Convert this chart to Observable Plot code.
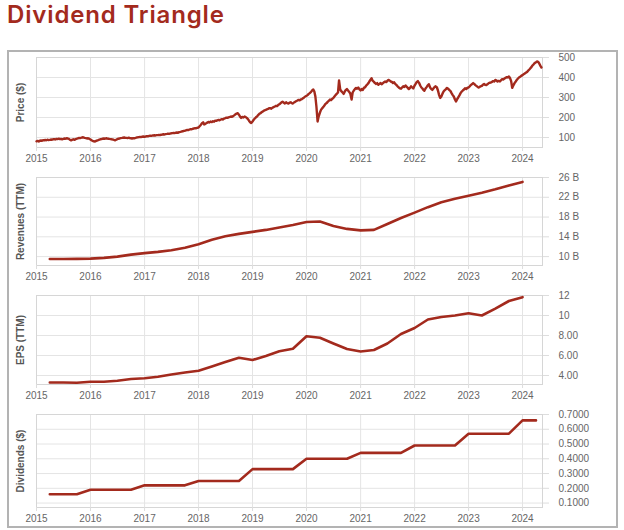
<!DOCTYPE html>
<html>
<head>
<meta charset="utf-8">
<script src="https://cdn.jsdelivr.net/npm/d3@7"></script>
<script src="https://cdn.jsdelivr.net/npm/@observablehq/plot@0.6"></script>
<style>
  html, body { margin: 0; padding: 0; background: #fff; }
  #page { position: relative; width: 624px; height: 530px; overflow: hidden; }
  #title { position: absolute; left: 7px; top: 0px; font: 600 24px "Inter", sans-serif; line-height: normal; letter-spacing: 0.85px; color: #a32a1d; white-space: nowrap; }
  #box { position: absolute; left: 7px; top: 50px; width: 607px; height: 474px; border: 2px solid #b3b3b3; }
  .panel { position: absolute; left: 0; }
</style>
</head>
<body>
<div id="page">
  <div id="title">Dividend Triangle</div>
  <div id="box"></div>
</div>
<script>
// ---- data ----
const yearLabels = ["2015","2016","2017","2018","2019","2020","2021","2022","2023","2024"];
const xDomainDates = ["2015-01-01", "2024-05-15"];

// Price, four readings per month (1st, 8th, 16th, 23rd)
const price2015 = [81, 83, 80, 84, 85, 84, 87, 86, 88, 86, 89, 87, 88, 90, 89, 91, 92, 90, 93, 92, 94, 92, 93, 91,
  93, 95, 94, 96, 95, 93, 88, 86, 89, 91, 88, 92, 94, 96, 98, 97, 99, 101, 100, 98, 97, 95, 96, 94];
const price2016 = [90, 86, 83, 81, 80, 83, 85, 87, 89, 91, 92, 94, 95, 94, 96, 95, 94, 93, 92, 91, 90, 88, 86, 89,
  92, 94, 95, 97, 98, 99, 100, 99, 98, 97, 99, 97, 96, 95, 97, 96, 98, 100, 101, 102, 103, 102, 104, 105];
const price2017 = [104, 105, 107, 106, 108, 109, 108, 110, 110, 111, 110, 112, 112, 113, 112, 114, 115, 116, 115, 117, 118, 119, 118, 120,
  121, 122, 123, 122, 124, 125, 124, 127, 128, 130, 131, 133, 134, 136, 138, 137, 140, 142, 141, 144, 145, 147, 146, 149];
const price2018 = [150, 156, 163, 170, 176, 165, 168, 172, 174, 178, 175, 180, 177, 181, 179, 184, 183, 186, 188, 186, 190, 192, 190, 195,
  197, 199, 198, 201, 203, 205, 204, 207, 212, 216, 220, 222, 214, 205, 198, 203, 200, 205, 202, 198, 192, 184, 176, 172];
const price2019 = [180, 188, 195, 200, 206, 212, 218, 221, 225, 229, 232, 236, 238, 241, 243, 246, 247, 244, 249, 252, 255, 258, 257, 262,
  266, 270, 276, 279, 274, 270, 276, 272, 270, 274, 276, 272, 270, 275, 278, 282, 285, 288, 286, 290, 292, 296, 300, 305];
const price2020 = [308, 312, 318, 322, 328, 335, 340, 330, 305, 255, 180, 205, 225, 238, 246, 252, 260, 268, 272, 278, 284, 290, 287, 294,
  298, 305, 312, 318, 325, 385, 340, 332, 325, 318, 330, 338, 342, 335, 328, 320, 290, 325, 335, 342, 348, 344, 350, 342];
const price2021 = [335, 342, 338, 348, 352, 360, 366, 372, 380, 388, 396, 384, 378, 372, 368, 372, 364, 368, 372, 366, 372, 376, 380, 377,
  383, 388, 385, 380, 378, 372, 376, 368, 362, 356, 350, 346, 344, 350, 356, 352, 360, 354, 348, 342, 348, 356, 350, 345];
const price2022 = [360, 368, 378, 382, 372, 360, 350, 345, 338, 334, 345, 352, 362, 366, 350, 343, 338, 345, 352, 356, 350, 335, 312, 298,
  305, 318, 330, 336, 342, 348, 344, 338, 332, 322, 312, 305, 290, 280, 292, 300, 312, 322, 330, 335, 340, 346, 342, 348];
const price2023 = [350, 355, 362, 366, 372, 368, 362, 358, 355, 350, 352, 356, 358, 364, 368, 363, 362, 366, 371, 374, 375, 378, 382, 380,
  388, 385, 380, 383, 380, 386, 392, 390, 395, 398, 402, 400, 405, 398, 382, 348, 362, 372, 380, 388, 395, 400, 404, 408];
const price2024 = [412, 416, 420, 424, 428, 434, 440, 446, 452, 460, 466, 472, 476, 480, 478, 470, 458, 450];
const priceYears = [2015, 2016, 2017, 2018, 2019, 2020, 2021, 2022, 2023, 2024];
const priceDays = [1, 8, 16, 23];
const priceRows = [price2015, price2016, price2017, price2018, price2019, price2020, price2021, price2022, price2023, price2024];
const priceTicks = [100, 200, 300, 400, 500];

// Revenues TTM (billions), quarterly
const quarterDates = ["2015-04-01","2015-07-01","2015-10-01",
  "2016-01-01","2016-04-01","2016-07-01","2016-10-01",
  "2017-01-01","2017-04-01","2017-07-01","2017-10-01",
  "2018-01-01","2018-04-01","2018-07-01","2018-10-01",
  "2019-01-01","2019-04-01","2019-07-01","2019-10-01",
  "2020-01-01","2020-04-01","2020-07-01","2020-10-01",
  "2021-01-01","2021-04-01","2021-07-01","2021-10-01",
  "2022-01-01","2022-04-01","2022-07-01","2022-10-01",
  "2023-01-01","2023-04-01","2023-07-01","2023-10-01",
  "2024-01-01"];
const revenues = [9.5, 9.5, 9.55, 9.6, 9.75, 10.0, 10.4, 10.7, 10.95, 11.3, 11.8, 12.5, 13.4, 14.1, 14.6, 15.0, 15.4, 15.9, 16.4, 17.0, 17.1, 16.2, 15.6, 15.3, 15.4, 16.6, 17.8, 18.9, 20.0, 21.0, 21.7, 22.3, 22.9, 23.6, 24.4, 25.1];
const revTicks = [10, 14, 18, 22, 26];

// EPS TTM, quarterly
const eps = [3.3, 3.3, 3.28, 3.38, 3.38, 3.48, 3.65, 3.72, 3.88, 4.1, 4.3, 4.48, 4.9, 5.35, 5.78, 5.55, 5.95, 6.42, 6.67, 7.93, 7.77, 7.2, 6.65, 6.4, 6.55, 7.2, 8.15, 8.75, 9.6, 9.85, 10.0, 10.22, 10.0, 10.68, 11.45, 11.83];
const epsTicks = [4, 6, 8, 10, 12];
const epsTickLabels = ["4.00", "6.00", "8.00", "10", "12"];

// Dividends, quarterly
const divDates = quarterDates.concat(["2024-04-01"]);
const dividends = [0.16, 0.16, 0.16,
  0.19, 0.19, 0.19, 0.19,
  0.22, 0.22, 0.22, 0.22,
  0.25, 0.25, 0.25, 0.25,
  0.33, 0.33, 0.33, 0.33,
  0.40, 0.40, 0.40, 0.40,
  0.44, 0.44, 0.44, 0.44,
  0.49, 0.49, 0.49, 0.49,
  0.57, 0.57, 0.57, 0.57,
  0.66, 0.66];
const divTicks = [0.1, 0.2, 0.3, 0.4, 0.5, 0.6, 0.7];

// ---- build tables ----
const priceData = [];
priceRows.forEach((row, k) => {
  row.forEach((v, i) => {
    priceData.push({date: new Date(Date.UTC(priceYears[k], Math.floor(i / 4), priceDays[i % 4])), value: v});
  });
});
const revData = quarterDates.map((d, i) => ({date: new Date(d), value: revenues[i]}));
const epsData = quarterDates.map((d, i) => ({date: new Date(d), value: eps[i]}));
const divData = divDates.map((d, i) => ({date: new Date(d), value: dividends[i]}));

const yearDates = yearLabels.map(y => new Date(Date.UTC(+y, 0, 1)));
const xDomain = xDomainDates.map(d => new Date(d));
const lineColor = "#a32a1d";

function panel({top, height, mt, mb, data, yDomain, yTicks, yFmt, label, sw}) {
  const svg = Plot.plot({
    width: 624, height,
    marginTop: mt, marginBottom: mb, marginLeft: 36, marginRight: 82,
    style: {background: "transparent", fontFamily: "'Liberation Sans', Arial, sans-serif", fontSize: "10px", overflow: "visible"},
    x: {type: "utc", domain: xDomain},
    y: {domain: yDomain},
    marks: [
      Plot.gridX(yearDates, {stroke: "#e4e4e4", strokeOpacity: 1}),
      Plot.gridY(yTicks, {stroke: "#e4e4e4", strokeOpacity: 1}),
      Plot.frame({stroke: "#d6d6d6"}),
      Plot.line(data, {x: "date", y: "value", stroke: lineColor, strokeWidth: sw, strokeLinejoin: "round"}),
      Plot.axisX(yearDates, {tickFormat: d => yearLabels[yearDates.findIndex(t => +t === +d)], tickSize: 4, tickPadding: 3, stroke: "#dddddd", fill: "#666", label: null}),
      Plot.axisY(yTicks, {anchor: "right", tickFormat: yFmt, tickSize: 6, tickPadding: 10, stroke: "#dddddd", fill: "#666", textAnchor: "start", label: null}),
      Plot.text([label], {frameAnchor: "left", textAnchor: "middle", rotate: -90, dx: -16, fill: "#555", fontWeight: "bold", fontSize: 10})
    ]
  });
  svg.classList.add("panel");
  svg.style.top = top + "px";
  document.getElementById("page").appendChild(svg);
}

panel({top: 50, height: 120, mt: 7, mb: 23, data: priceData, yDomain: [50, 500], yTicks: priceTicks, yFmt: d => String(d), label: "Price ($)", sw: 2.4});
panel({top: 170, height: 120, mt: 7, mb: 25, data: revData, yDomain: [8.2, 26], yTicks: revTicks, yFmt: d => d + " B", label: "Revenues (TTM)", sw: 2.6});
panel({top: 290, height: 115, mt: 5, mb: 21, data: epsData, yDomain: [3.1, 12], yTicks: epsTicks, yFmt: d => epsTickLabels[epsTicks.indexOf(d)], label: "EPS (TTM)", sw: 2.6});
panel({top: 405, height: 123, mt: 9, mb: 21, data: divData, yDomain: [0.07, 0.7], yTicks: divTicks, yFmt: d => d.toFixed(4), label: "Dividends ($)", sw: 2.6});
</script>
</body>
</html>
